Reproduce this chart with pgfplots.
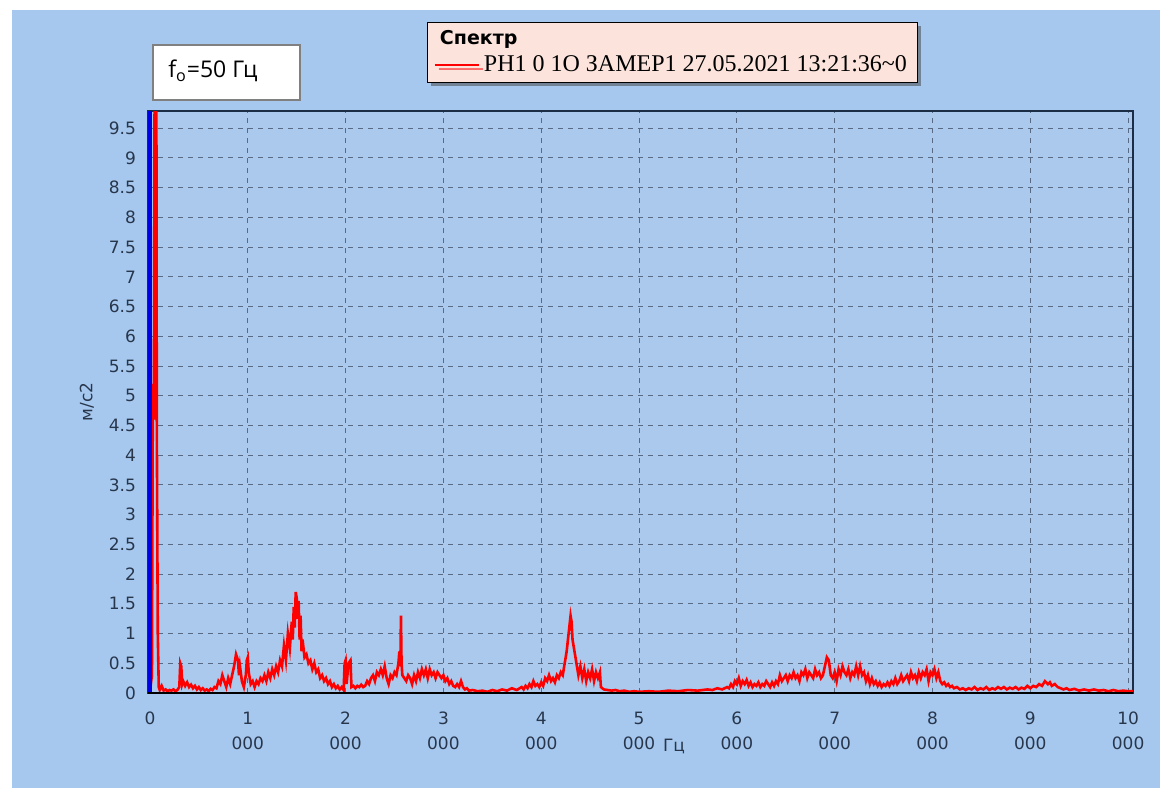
\documentclass[border=0pt]{standalone}
\usepackage{pgfplots}
\pgfplotsset{compat=1.18}
\usepackage{fontspec}
\setmainfont{Liberation Serif}
\newfontfamily\dv{DejaVu Sans}
\newfontfamily\os{Open Sans}
\usetikzlibrary{shadows}
\definecolor{outerbg}{RGB}{166,200,238}
\definecolor{plotbg}{RGB}{170,201,236}
\definecolor{gridc}{RGB}{88,106,132}
\definecolor{tickc}{RGB}{40,54,76}
\definecolor{framec}{RGB}{28,46,70}
\definecolor{legpink}{RGB}{252,228,220}
\begin{document}
\begin{tikzpicture}
\fill[white] (0,0) rectangle (580pt,394pt);
\fill[outerbg] (6pt,0pt) rectangle (580pt,389pt);
\begin{axis}[
  at={(74pt,47.5pt)}, anchor=south west,
  scale only axis, width=492.5pt, height=291pt,
  xmin=-20, xmax=10050, ymin=0, ymax=9.79,
  scaled x ticks=false,
  axis background/.style={fill=plotbg},
  axis line style={draw=framec, line width=0.8pt},
  xtick={0,1000,...,10000},
  xticklabels={0,{1\\000},{2\\000},{3\\000},{4\\000},{5\\000},{6\\000},{7\\000},{8\\000},{9\\000},{10\\000}},
  ytick={0,0.5,...,9.5},
  major tick length=0pt,
  grid=major,
  major grid style={dash pattern=on 2.5pt off 2.5pt, color=gridc, line width=0.5pt},
  /pgf/number format/assume math mode=true,
  xticklabel style={font=\dv\fontsize{8.5}{12.5}\selectfont, align=center, text=tickc, yshift=-6pt},
  yticklabel style={font=\dv\fontsize{8.5}{10}\selectfont, text=tickc, xshift=-2.5pt},
  ylabel={м/с2},
  ylabel style={at={(axis description cs:-0.062,0.5)}, anchor=center, font=\dv\fontsize{8.5}{10}\selectfont, text=tickc},
  xlabel={Гц},
  xlabel style={at={(axis description cs:0.4975,0)}, anchor=west, xshift=9pt, yshift=-26.5pt, font=\dv\fontsize{8.5}{10}\selectfont, text=tickc},
  legend style={at={(0.2832,1.1529)}, anchor=north west, draw=black, fill=legpink,
     font=\fontsize{12}{13}\selectfont, cells={anchor=west}, inner xsep=3pt, inner ysep=2pt,
     drop shadow={shadow xshift=2pt, shadow yshift=-2pt, fill=black!75}, row sep=0pt},
  legend image code/.code={\draw[#1] (0pt,0pt) -- (22pt,0pt);},
]
\addlegendimage{empty legend}
\addlegendentry{\hspace*{-22pt}{\dv\bfseries\fontsize{9.5}{11}\selectfont Спектр}}
\addplot[red, line width=1.3pt] coordinates {
(0,0.02) (20,0.3) (30,5.2) (40,4.6) (50,12) (55,5) (60,4.7) (65,11) (70,4.5) (80,1.0) (90,0.1)
(100,0.05) (120,0.12) (140,0.04) (160,0.06) (180,0.03) (200,0.05) (220,0.04) (240,0.06) (260,0.03) (280,0.05)
(300,0.1) (310,0.5) (320,0.45) (330,0.15) (340,0.2) (360,0.12) (380,0.18) (400,0.1) (420,0.14) (440,0.08)
(460,0.12) (480,0.06) (500,0.1) (520,0.05) (540,0.08) (560,0.04) (580,0.06) (600,0.03) (620,0.07) (640,0.05)
(660,0.1) (680,0.08) (700,0.2) (720,0.15) (740,0.3) (760,0.2) (780,0.1) (800,0.25) (820,0.15) (840,0.3)
(860,0.45) (880,0.65) (900,0.55) (910,0.3) (920,0.45) (940,0.2) (960,0.1) (980,0.3) (990,0.55) (1000,0.6)
(1010,0.35) (1030,0.15) (1050,0.2) (1070,0.1) (1090,0.2) (1110,0.15) (1130,0.25) (1150,0.2) (1170,0.3) (1190,0.2)
(1210,0.35) (1230,0.25) (1250,0.4) (1270,0.3) (1290,0.45) (1310,0.35) (1330,0.55) (1350,0.45) (1370,0.8) (1390,0.55)
(1410,1.0) (1430,0.75) (1450,1.2) (1460,0.9) (1470,1.45) (1480,1.1) (1490,1.7) (1500,1.6) (1510,1.25) (1520,1.55)
(1530,0.9) (1540,1.3) (1550,0.7) (1560,0.9) (1580,0.6) (1600,0.65) (1620,0.5) (1640,0.55) (1660,0.4) (1680,0.5)
(1700,0.35) (1720,0.4) (1740,0.25) (1760,0.3) (1780,0.2) (1800,0.25) (1820,0.15) (1840,0.2) (1860,0.1) (1880,0.15)
(1900,0.08) (1920,0.12) (1940,0.06) (1960,0.1) (1980,0.05) (1990,0.5) (2000,0.55) (2010,0.15) (2030,0.5) (2050,0.55)
(2060,0.1) (2080,0.12) (2100,0.08) (2120,0.12) (2140,0.1) (2160,0.14) (2180,0.1) (2200,0.12) (2220,0.2) (2240,0.15)
(2260,0.25) (2280,0.3) (2300,0.2) (2320,0.35) (2340,0.3) (2360,0.4) (2380,0.3) (2400,0.45) (2420,0.25) (2440,0.15)
(2460,0.3) (2480,0.25) (2500,0.35) (2520,0.3) (2540,0.5) (2550,0.7) (2560,0.45) (2566,1.3) (2572,0.5) (2580,0.3)
(2600,0.25) (2620,0.2) (2640,0.3) (2660,0.25) (2680,0.15) (2700,0.3) (2720,0.2) (2740,0.35) (2760,0.25) (2780,0.4)
(2800,0.3) (2820,0.4) (2840,0.25) (2860,0.4) (2880,0.3) (2900,0.35) (2920,0.25) (2940,0.35) (2960,0.3) (2980,0.25)
(3000,0.3) (3020,0.2) (3040,0.25) (3060,0.15) (3080,0.2) (3100,0.12) (3120,0.1) (3140,0.15) (3160,0.1) (3180,0.2)
(3200,0.1) (3220,0.06) (3240,0.08) (3260,0.04) (3300,0.05) (3350,0.03) (3400,0.04) (3450,0.02) (3500,0.05) (3550,0.03)
(3600,0.06) (3650,0.04) (3700,0.08) (3750,0.05) (3800,0.1) (3820,0.06) (3840,0.12) (3860,0.08) (3880,0.15) (3900,0.1)
(3920,0.2) (3940,0.12) (3960,0.15) (3980,0.1) (4000,0.18) (4020,0.12) (4040,0.25) (4060,0.2) (4080,0.3) (4100,0.2)
(4120,0.25) (4140,0.18) (4160,0.3) (4180,0.25) (4200,0.35) (4220,0.3) (4240,0.5) (4260,0.7) (4280,1.0) (4300,1.3)
(4310,1.2) (4320,0.9) (4340,0.7) (4360,0.5) (4380,0.3) (4400,0.45) (4420,0.25) (4440,0.4) (4460,0.2) (4480,0.35)
(4500,0.25) (4520,0.4) (4540,0.2) (4560,0.35) (4580,0.25) (4600,0.35) (4610,0.1) (4640,0.06) (4680,0.05) (4720,0.04)
(4760,0.05) (4800,0.03) (4850,0.04) (4900,0.02) (4950,0.03) (5000,0.02) (5100,0.03) (5200,0.02) (5300,0.04) (5400,0.03)
(5500,0.05) (5600,0.04) (5700,0.06) (5750,0.05) (5800,0.08) (5850,0.06) (5900,0.1) (5920,0.08) (5940,0.15) (5960,0.1)
(5980,0.2) (6000,0.15) (6020,0.25) (6040,0.12) (6060,0.2) (6080,0.15) (6100,0.22) (6120,0.12) (6140,0.18) (6160,0.1)
(6180,0.15) (6200,0.12) (6220,0.18) (6240,0.1) (6260,0.15) (6280,0.12) (6300,0.2) (6320,0.15) (6340,0.1) (6360,0.18)
(6380,0.12) (6400,0.2) (6420,0.15) (6440,0.3) (6460,0.2) (6480,0.25) (6500,0.3) (6520,0.2) (6540,0.3) (6560,0.25)
(6580,0.35) (6600,0.25) (6620,0.3) (6640,0.2) (6660,0.35) (6680,0.3) (6700,0.4) (6720,0.25) (6740,0.35) (6760,0.3)
(6780,0.25) (6800,0.4) (6820,0.3) (6840,0.35) (6860,0.25) (6880,0.3) (6900,0.45) (6920,0.6) (6940,0.55) (6960,0.3)
(6980,0.25) (7000,0.35) (7020,0.2) (7040,0.4) (7060,0.3) (7080,0.45) (7100,0.35) (7120,0.3) (7140,0.4) (7160,0.25)
(7180,0.35) (7200,0.3) (7220,0.45) (7240,0.3) (7260,0.45) (7280,0.3) (7300,0.35) (7320,0.2) (7340,0.3) (7360,0.15)
(7380,0.25) (7400,0.15) (7420,0.2) (7440,0.12) (7460,0.18) (7480,0.1) (7500,0.15) (7520,0.12) (7540,0.18) (7560,0.12)
(7580,0.2) (7600,0.15) (7620,0.25) (7640,0.15) (7660,0.2) (7680,0.3) (7700,0.2) (7720,0.25) (7740,0.3) (7760,0.2)
(7780,0.35) (7800,0.25) (7820,0.3) (7840,0.2) (7860,0.35) (7880,0.25) (7900,0.35) (7920,0.3) (7940,0.4) (7960,0.2)
(7980,0.35) (8000,0.3) (8020,0.4) (8040,0.25) (8060,0.35) (8080,0.2) (8100,0.15) (8120,0.18) (8140,0.12) (8160,0.15)
(8180,0.1) (8200,0.12) (8220,0.08) (8250,0.1) (8280,0.06) (8310,0.08) (8340,0.05) (8370,0.08) (8400,0.06) (8430,0.1)
(8460,0.05) (8490,0.08) (8520,0.06) (8550,0.1) (8580,0.05) (8610,0.08) (8640,0.06) (8670,0.1) (8700,0.07) (8730,0.1)
(8760,0.06) (8790,0.09) (8820,0.07) (8850,0.1) (8880,0.06) (8910,0.09) (8940,0.07) (8970,0.12) (9000,0.08) (9030,0.12)
(9060,0.1) (9090,0.15) (9120,0.12) (9150,0.2) (9180,0.15) (9200,0.18) (9220,0.12) (9250,0.15) (9280,0.1) (9310,0.08)
(9340,0.06) (9370,0.08) (9400,0.05) (9450,0.07) (9500,0.04) (9550,0.06) (9600,0.04) (9650,0.06) (9700,0.04) (9750,0.05)
(9800,0.03) (9850,0.05) (9900,0.03) (9950,0.04) (10000,0.03) (10050,0.03)
};
\addlegendentry{РН1 0 1О ЗАМЕР1 27.05.2021 13:21:36\textasciitilde0}
\addplot[color={rgb,255:red,0;green,0;blue,230}, line width=2pt, forget plot] coordinates {(0,0) (0,9.79)};
\draw[black, line width=1.5pt] (rel axis cs:0,0) -- (rel axis cs:1,0);
\end{axis}
\node[draw=gray, fill=white, line width=0.6pt, minimum width=73.5pt, minimum height=27.5pt, inner sep=0pt] at (113.25pt,357.75pt) {};
\node[anchor=west, inner sep=0pt, font=\os\fontsize{11.5}{13}\selectfont] at (84pt,358.5pt) {f\textsubscript{o}=50 Гц};
\end{tikzpicture}
\end{document}
